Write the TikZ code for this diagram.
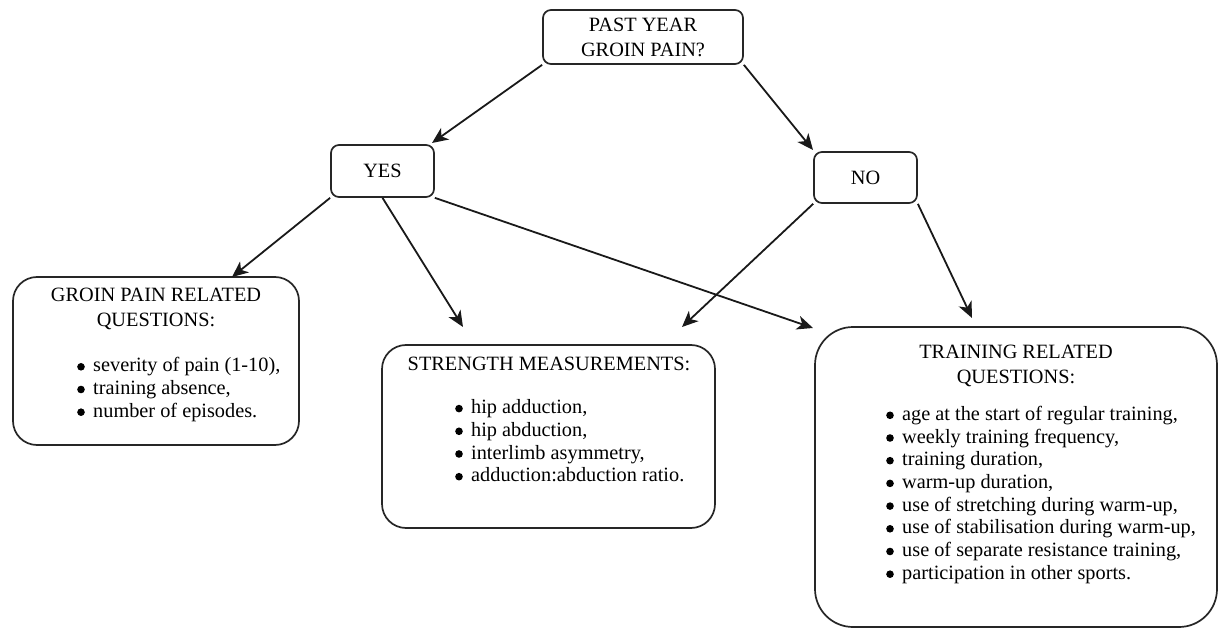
\documentclass[tikz,border=0pt]{standalone}
\usepackage{fontspec}
\setmainfont{Liberation Serif}
\usetikzlibrary{arrows.meta}
\begin{document}
\begin{tikzpicture}[x=1pt,y=-1pt,
  txt/.style={font=\fontsize{20.3}{22.7}\selectfont, text=black, inner sep=0pt},
  smallbox/.style={draw=black!85, line width=1.7pt, rounded corners=8pt, txt, align=center, font=\fontsize{20.3}{25}\selectfont},
  bigbox/.style={draw=black!85, line width=1.7pt},
  title/.style={txt, align=center, font=\fontsize{20.3}{25}\selectfont},
  list/.style={txt, align=left, anchor=north west},
  arr/.style={draw=black!90, line width=1.8pt, -{Stealth[length=16pt,width=14pt,inset=4.5pt]}}
]
\newcommand{\bul}{\tikz[baseline=-5.2pt]{\fill[black] (0pt,0pt) circle[radius=3.8pt];}}
\newcommand{\itm}[1]{\makebox[16pt][l]{\bul}#1}
\useasboundingbox (0,0) rectangle (1221,628);

% decision nodes
\node[smallbox, minimum width=200pt, minimum height=54pt] (top) at (643,37) {PAST YEAR\\GROIN PAIN?};
\node[smallbox, minimum width=103pt, minimum height=52pt] (yes) at (382.5,171) {YES};
\node[smallbox, minimum width=103pt, minimum height=51pt] (no) at (865.5,177.5) {NO};

% result boxes
\node[bigbox, rounded corners=24pt, minimum width=286pt, minimum height=168pt] (gbox) at (156,361) {};
\node[title] (gtitle) at (156,308.5) {GROIN PAIN RELATED\\QUESTIONS:};
\node[list] (glist) at (77,357.5) {\itm{severity of pain (1-10),}\\\itm{training absence,}\\\itm{number of episodes.}};

\node[bigbox, rounded corners=24pt, minimum width=333pt, minimum height=183pt] (sbox) at (548.5,436.5) {};
\node[title] (stitle) at (549,364) {STRENGTH MEASUREMENTS:};
\node[list] (slist) at (455,399.5) {\itm{hip adduction,}\\\itm{hip abduction,}\\\itm{interlimb asymmetry,}\\\itm{adduction:abduction ratio.}};

\node[bigbox, rounded corners=38pt, minimum width=402pt, minimum height=300pt] (tbox) at (1016,477) {};
\node[title] (ttitle) at (1016,365.5) {TRAINING RELATED\\QUESTIONS:};
\node[list] (tlist) at (886,406) {\itm{age at the start of regular training,}\\\itm{weekly training frequency,}\\\itm{training duration,}\\\itm{warm-up duration,}\\\itm{use of stretching during warm-up,}\\\itm{use of stabilisation during warm-up,}\\\itm{use of separate resistance training,}\\\itm{participation in other sports.}};

% arrow tips (free ends)
\coordinate (tYes) at (432,143);
\coordinate (tNo) at (813,150);
\coordinate (tG) at (232,277);
\coordinate (tS1) at (463,327);
\coordinate (tT1) at (813,328);
\coordinate (tS2) at (682,327);
\coordinate (tT2) at (972,318);

\draw[arr] (top.south west) -- (tYes);
\draw[arr] (top.south east) -- (tNo);
\draw[arr] (yes.south west) -- (tG);
\draw[arr] (yes.south) -- (tS1);
\draw[arr] (yes.south east) -- (tT1);
\draw[arr] (no.south west) -- (tS2);
\draw[arr] (no.south east) -- (tT2);
\end{tikzpicture}
\end{document}
